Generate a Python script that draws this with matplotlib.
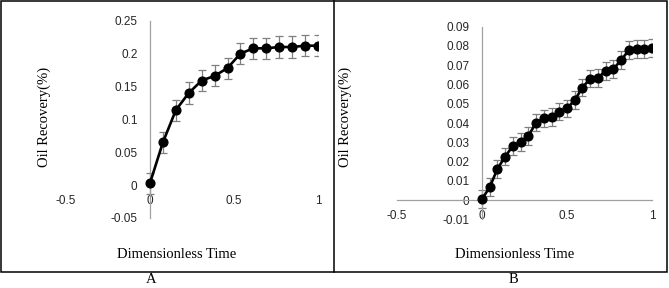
import matplotlib.pyplot as plt
from matplotlib.lines import Line2D
from matplotlib.patches import Rectangle

# panel A data
time_a = [i / 13 for i in range(14)]
recovery_a = [0.003, 0.065, 0.114, 0.140, 0.159, 0.166, 0.178, 0.200,
              0.208, 0.208, 0.210, 0.210, 0.212, 0.212]
err_a = 0.016
yticks_a = [-0.05, 0, 0.05, 0.1, 0.15, 0.2, 0.25]
ylabels_a = ["-0.05", "0", "0.05", "0.1", "0.15", "0.2", "0.25"]

# panel B data
time_b = [i / 22 for i in range(23)]
recovery_b = [0.0005, 0.0067, 0.0162, 0.0226, 0.0281, 0.0303, 0.0333, 0.0402,
              0.0424, 0.0433, 0.0459, 0.0476, 0.0519, 0.0584, 0.0631, 0.0634,
              0.0671, 0.0681, 0.0726, 0.0778, 0.0783, 0.0786, 0.0790]
err_b = 0.0046
yticks_b = [-0.01, 0, 0.01, 0.02, 0.03, 0.04, 0.05, 0.06, 0.07, 0.08, 0.09]
ylabels_b = ["-0.01", "0", "0.01", "0.02", "0.03", "0.04", "0.05", "0.06",
             "0.07", "0.08", "0.09"]

xticks = [-0.5, 0, 0.5, 1]
xlabels = ["-0.5", "0", "0.5", "1"]

W, H = 669, 288
fig = plt.figure(figsize=(W / 100, H / 100), dpi=100)

serif = "Liberation Serif"
sans = "Liberation Sans"


def panel(rect, x, y, err, yticks, ylabels, ylim, show_xline):
    ax = fig.add_axes(rect)
    ax.errorbar(x, y, yerr=err, fmt="none", ecolor="#7f7f7f", elinewidth=0.9,
                capsize=2.6, capthick=0.9, zorder=2)
    ax.plot(x, y, "-o", color="black", lw=1.9, markersize=6.3, zorder=3)
    ax.set_xlim(-0.5, 1)
    ax.set_ylim(*ylim)
    ax.spines["left"].set_position(("data", 0))
    ax.spines["bottom"].set_position(("data", 0))
    ax.spines["top"].set_visible(False)
    ax.spines["right"].set_visible(False)
    ax.spines["left"].set_color("#a0a0a0")
    ax.spines["bottom"].set_color("#a0a0a0")
    ax.spines["left"].set_linewidth(0.9)
    ax.spines["bottom"].set_linewidth(0.9)
    if not show_xline:
        ax.spines["bottom"].set_visible(False)
    ax.set_xticks(xticks)
    ax.set_xticklabels(xlabels, fontfamily=sans, fontsize=8.5, color="#262626")
    ax.set_yticks(yticks)
    ax.set_yticklabels(ylabels, fontfamily=sans, fontsize=8.5, color="#262626")
    ax.tick_params(axis="x", length=0, pad=7)
    ax.tick_params(axis="y", length=0, pad=9)
    ax.patch.set_visible(False)
    return ax


panel([66 / W, 1 - 217.9 / H, 252 / W, 197.2 / H], time_a, recovery_a, err_a,
      yticks_a, ylabels_a, (-0.05, 0.25), False)
panel([397 / W, 1 - 219.3 / H, 255 / W, 192.6 / H], time_b, recovery_b, err_b,
      yticks_b, ylabels_b, (-0.01, 0.09), True)

# axis titles
for xl, xt, cap, xc in [(44, 177, "A", 151), (345, 515, "B", 513)]:
    fig.text(xl / W, 1 - 117 / H, "Oil Recovery(%)", rotation=90, ha="center",
             va="center", fontfamily=serif, fontsize=10.5)
    fig.text(xt / W, 1 - 255 / H, "Dimensionless Time", ha="center",
             va="center", fontfamily=serif, fontsize=10.5)
    fig.text(xc / W, 1 - 286 / H, cap, ha="center", va="bottom",
             fontfamily=serif, fontsize=10.5)

# panel borders
fig.add_artist(Rectangle((1 / W, 1 - 272 / H), 666 / W, 271 / H,
                         transform=fig.transFigure, fill=False,
                         edgecolor="black", lw=1.1))
fig.add_artist(Line2D([334 / W, 334 / W], [1 - 272 / H, 1 - 1 / H],
                      transform=fig.transFigure, color="black", lw=1.1))

fig.savefig("out.png", dpi=100)
